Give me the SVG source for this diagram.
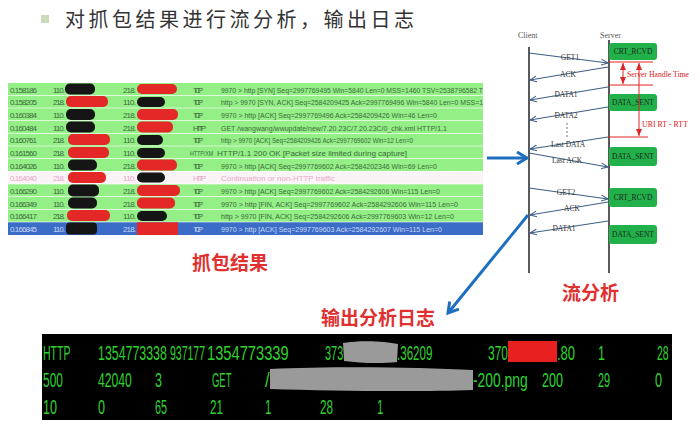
<svg xmlns="http://www.w3.org/2000/svg" width="700" height="433" viewBox="0 0 700 433">
<style>
.tt{font-family:"Liberation Sans",Arial,sans-serif;font-size:8px;fill:#3d6b3d}
.tp{font-family:"Liberation Sans",Arial,sans-serif;font-size:8px;fill:#e8a8c8}
.tb{font-family:"Liberation Sans",Arial,sans-serif;font-size:8px;fill:#c8d8f4}
.row{fill:#93ef86}
.blk{fill:#151515}
.red{fill:#e42828}
.fl{stroke:#3b5f86;stroke-width:1.1;fill:none}
.fll{font-family:"Liberation Serif",serif;font-size:7.5px;fill:#333;text-anchor:middle}
.box{fill:#22b04a}
.bt{font-family:"Liberation Serif",serif;font-size:7.5px;fill:#1c2a1c;text-anchor:middle}
.rl{stroke:#e02424;stroke-width:1;fill:none}
.rt{font-family:"Liberation Serif",serif;font-size:7.5px;fill:#d82020}
.cn{font-family:"Noto Sans CJK SC",sans-serif;font-weight:bold;font-size:19px;fill:#e03030}
.og{font-family:"Liberation Sans",Arial,sans-serif;font-size:21px;fill:#2fd12f}
.big{stroke:#1f6fbf;stroke-width:3;fill:none}
</style>
<defs>
<marker id="ah" markerUnits="userSpaceOnUse" markerWidth="8" markerHeight="8" refX="7" refY="4" orient="auto"><path d="M0,1 L7,4 L0,7" fill="none" stroke="#3b5f86" stroke-width="1"/></marker>
<marker id="ra" markerUnits="userSpaceOnUse" markerWidth="8" markerHeight="8" refX="7" refY="4" orient="auto-start-reverse"><path d="M0,1 L7,4 L0,7 z" fill="#e02424"/></marker>
<marker id="ba" markerUnits="userSpaceOnUse" markerWidth="14" markerHeight="14" refX="11" refY="7" orient="auto"><path d="M1,1 L11,7 L1,13" fill="none" stroke="#1f6fbf" stroke-width="3"/></marker>
</defs>
<rect width="700" height="433" fill="#ffffff"/>

<g id="title">
<rect x="41" y="15" width="8" height="8" fill="#cbd9bd"/>
<text x="65" y="27" font-family="Noto Sans CJK SC,sans-serif" font-size="20" letter-spacing="3.5" fill="#333">对抓包结果进行流分析，输出日志</text>
</g>

<g id="capture-table">
<rect class="row" x="8" y="83" width="475" height="12"/>
<rect class="row" x="8" y="95.7" width="475" height="12"/>
<rect class="row" x="8" y="108.3" width="475" height="12"/>
<rect class="row" x="8" y="121" width="475" height="12"/>
<rect class="row" x="8" y="133.7" width="475" height="12"/>
<rect class="row" x="8" y="146.3" width="475" height="12"/>
<rect class="row" x="8" y="159" width="475" height="12"/>
<rect x="8" y="171.7" width="475" height="12" fill="#fbf4f7"/>
<rect class="row" x="8" y="184.3" width="475" height="12"/>
<rect class="row" x="8" y="197" width="475" height="12"/>
<rect class="row" x="8" y="209.7" width="475" height="12"/>
<rect x="8" y="222.3" width="475" height="12.7" fill="#3a6cc8"/>

<g class="tt">
<text x="10" y="92.5" textLength="27">0.158186</text><text x="53" y="92.5" textLength="12">110.</text><text x="123" y="92.5" textLength="13">218.</text><text x="193" y="92.5" textLength="10">TCP</text><text x="221" y="92.5" textLength="262" lengthAdjust="spacingAndGlyphs">9970 &gt; http [SYN] Seq=2997769495 Win=5840 Len=0 MSS=1460 TSV=2538796582 T</text>
<text x="10" y="105.2" textLength="27">0.158205</text><text x="53" y="105.2" textLength="12">218.</text><text x="123" y="105.2" textLength="13">110.</text><text x="193" y="105.2" textLength="10">TCP</text><text x="221" y="105.2" textLength="262" lengthAdjust="spacingAndGlyphs">http &gt; 9970 [SYN, ACK] Seq=2584209425 Ack=2997769496 Win=5840 Len=0 MSS=1</text>
<text x="10" y="117.8" textLength="27">0.160384</text><text x="53" y="117.8" textLength="12">110.</text><text x="123" y="117.8" textLength="13">218.</text><text x="193" y="117.8" textLength="10">TCP</text><text x="221" y="117.8" textLength="216" lengthAdjust="spacingAndGlyphs">9970 &gt; http [ACK] Seq=2997769496 Ack=2584209426 Win=46 Len=0</text>
<text x="10" y="130.5" textLength="27">0.160484</text><text x="53" y="130.5" textLength="12">110.</text><text x="123" y="130.5" textLength="13">218.</text><text x="193" y="130.5" textLength="13">HTTP</text><text x="221" y="130.5" textLength="226" lengthAdjust="spacingAndGlyphs">GET /wangwang/wwupdate/new/7.20.23C/7.20.23C/0_chk.xml HTTP/1.1</text>
<text x="10" y="143.2" textLength="27">0.160761</text><text x="53" y="143.2" textLength="12">218.</text><text x="123" y="143.2" textLength="13">110.</text><text x="193" y="143.2" textLength="10">TCP</text><text x="221" y="143.2" textLength="192" lengthAdjust="spacingAndGlyphs">http &gt; 9970 [ACK] Seq=2584209426 Ack=2997769602 Win=12 Len=0</text>
<text x="10" y="155.8" textLength="27">0.161560</text><text x="53" y="155.8" textLength="12">218.</text><text x="123" y="155.8" textLength="13">110.</text><text transform="translate(190,155.8) scale(0.66,1)">HTTP/XM</text><text x="217" y="155.8" textLength="190" lengthAdjust="spacingAndGlyphs">HTTP/1.1 200 OK [Packet size limited during capture]</text>
<text x="10" y="168.5" textLength="27">0.164026</text><text x="53" y="168.5" textLength="12">110.</text><text x="123" y="168.5" textLength="13">218.</text><text x="193" y="168.5" textLength="10">TCP</text><text x="221" y="168.5" textLength="216" lengthAdjust="spacingAndGlyphs">9970 &gt; http [ACK] Seq=2997769602 Ack=2584202346 Win=69 Len=0</text>
<text x="10" y="193.8" textLength="27">0.166290</text><text x="53" y="193.8" textLength="12">110.</text><text x="123" y="193.8" textLength="13">218.</text><text x="193" y="193.8" textLength="10">TCP</text><text x="221" y="193.8" textLength="219" lengthAdjust="spacingAndGlyphs">9970 &gt; http [ACK] Seq=2997769602 Ack=2584292606 Win=115 Len=0</text>
<text x="10" y="206.5" textLength="27">0.166349</text><text x="53" y="206.5" textLength="12">110.</text><text x="123" y="206.5" textLength="13">218.</text><text x="193" y="206.5" textLength="10">TCP</text><text x="221" y="206.5" textLength="237" lengthAdjust="spacingAndGlyphs">9970 &gt; http [FIN, ACK] Seq=2997769602 Ack=2584292606 Win=115 Len=0</text>
<text x="10" y="219.2" textLength="27">0.166417</text><text x="53" y="219.2" textLength="12">218.</text><text x="123" y="219.2" textLength="13">110.</text><text x="193" y="219.2" textLength="10">TCP</text><text x="221" y="219.2" textLength="233" lengthAdjust="spacingAndGlyphs">http &gt; 9970 [FIN, ACK] Seq=2584292606 Ack=2997769603 Win=12 Len=0</text>
</g>
<g class="tp">
<text x="10" y="181.2" textLength="27">0.164040</text><text x="53" y="181.2" textLength="12">218.</text><text x="123" y="181.2" textLength="13">110.</text><text x="193" y="181.2" textLength="13">HTTP</text><text x="221" y="181.2" textLength="114" lengthAdjust="spacingAndGlyphs">Continuation or non-HTTP traffic</text>
</g>
<g class="tb">
<text x="10" y="232" textLength="27">0.166845</text><text x="53" y="232" textLength="12">110.</text><text x="123" y="232" textLength="13">218.</text><text x="193" y="232" textLength="10">TCP</text><text x="221" y="232" textLength="221" lengthAdjust="spacingAndGlyphs">9970 &gt; http [ACK] Seq=2997769603 Ack=2584292607 Win=115 Len=0</text>
</g>

<rect class="blk" x="65" y="83.5" width="30" height="11" rx="5"/><rect class="red" x="137" y="84" width="40" height="10" rx="5"/>
<rect class="red" x="66" y="96" width="42" height="11" rx="5"/><rect class="blk" x="137" y="97" width="28" height="10" rx="5"/>
<rect class="blk" x="66" y="109" width="29" height="11" rx="5"/><rect class="red" x="137" y="109" width="41" height="11" rx="5"/>
<rect class="blk" x="66" y="121.5" width="29" height="11" rx="5"/><rect class="red" x="137" y="121.5" width="36" height="11" rx="5"/>
<rect class="red" x="68" y="134" width="42" height="11" rx="5"/><rect class="blk" x="137" y="135" width="26" height="10" rx="5"/>
<rect class="red" x="68" y="147" width="41" height="11" rx="5"/><rect class="blk" x="137" y="148" width="28" height="10" rx="5"/>
<rect class="blk" x="68" y="159.5" width="29" height="11" rx="5"/><rect class="red" x="137" y="159.5" width="40" height="11" rx="5"/>
<rect class="red" x="68" y="172" width="38" height="11" rx="5"/><rect class="blk" x="137" y="172.5" width="28" height="10" rx="5"/>
<rect class="blk" x="68" y="184.5" width="31" height="12" rx="5"/><rect class="red" x="137" y="185" width="43" height="11" rx="5"/>
<rect class="blk" x="68" y="197.5" width="29" height="11" rx="5"/><rect class="red" x="137" y="197.5" width="38" height="11" rx="5"/>
<rect class="red" x="67" y="210" width="43" height="11" rx="5"/><rect class="blk" x="137" y="211" width="30" height="10" rx="5"/>
<rect class="blk" x="66" y="222.5" width="31" height="12" rx="4"/><rect class="red" x="137" y="222.3" width="41" height="12.7"/>
</g>

<g id="label-capture"><text class="cn" x="192" y="270">抓包结果</text></g>
<g id="label-output"><text class="cn" x="321" y="325">输出分析日志</text></g>
<g id="label-flow"><text class="cn" x="562" y="300">流分析</text></g>

<g id="flow-diagram">
<text x="518" y="38" font-family="Liberation Serif,serif" font-size="8" fill="#555">Client</text>
<text x="600" y="38" font-family="Liberation Serif,serif" font-size="8" fill="#555">Server</text>
<line x1="529" y1="47" x2="529" y2="273" stroke="#222" stroke-width="1.5"/>
<line x1="609" y1="40" x2="609" y2="273" stroke="#222" stroke-width="1.5"/>
<g id="box-crt1"><rect class="box" x="609" y="43" width="48" height="17" rx="3"/><text class="bt" x="633" y="54">CRT_RCVD</text></g>
<g id="box-data1"><rect class="box" x="609" y="94" width="48" height="17" rx="3"/><text class="bt" x="633" y="105">DATA_SENT</text></g>
<g id="box-data2"><rect class="box" x="609" y="147" width="48" height="19" rx="3"/><text class="bt" x="633" y="159">DATA_SENT</text></g>
<g id="box-crt2"><rect class="box" x="609" y="188" width="48" height="19" rx="3"/><text class="bt" x="633" y="200">CRT_RCVD</text></g>
<g id="box-data3"><rect class="box" x="609" y="225" width="48" height="19" rx="3"/><text class="bt" x="633" y="237">DATA_SENT</text></g>
</g>

<g id="connectors">
<line class="fl" x1="529" y1="53" x2="608" y2="63" marker-end="url(#ah)"/>
<line class="fl" x1="608" y1="67" x2="530" y2="80" marker-end="url(#ah)"/>
<line class="fl" x1="608" y1="87" x2="530" y2="100" marker-end="url(#ah)"/>
<line class="fl" x1="608" y1="107" x2="530" y2="120" marker-end="url(#ah)"/>
<line class="fl" x1="608" y1="137" x2="530" y2="149" marker-end="url(#ah)"/>
<line class="fl" x1="529" y1="153" x2="608" y2="167" marker-end="url(#ah)"/>
<line class="fl" x1="529" y1="188" x2="608" y2="199" marker-end="url(#ah)"/>
<line class="fl" x1="608" y1="202" x2="530" y2="215" marker-end="url(#ah)"/>
<line class="fl" x1="608" y1="221" x2="530" y2="233" marker-end="url(#ah)"/>
<text class="fll" x="570" y="60">GET1</text>
<text class="fll" x="568" y="77">ACK</text>
<text class="fll" x="566" y="97">DATA1</text>
<text class="fll" x="566" y="118">DATA2</text>
<g fill="#444"><circle cx="567" cy="124" r="0.7"/><circle cx="567" cy="128" r="0.7"/><circle cx="567" cy="132" r="0.7"/><circle cx="567" cy="136" r="0.7"/></g>
<text class="fll" x="568" y="147">Last DATA</text>
<text class="fll" x="567" y="163">Last ACK</text>
<text class="fll" x="566" y="195">GET2</text>
<text class="fll" x="572" y="211">ACK</text>
<text class="fll" x="564" y="231">DATA1</text>

<line class="rl" x1="609" y1="62" x2="653" y2="62"/>
<line class="rl" x1="609" y1="85" x2="653" y2="85"/>
<line class="rl" x1="623" y1="63" x2="623" y2="84" marker-start="url(#ra)" marker-end="url(#ra)"/>
<text class="rt" x="627" y="77" textLength="62" lengthAdjust="spacingAndGlyphs">Server Handle Time</text>
<line class="rl" x1="608" y1="137" x2="648" y2="137"/>
<line class="rl" x1="639" y1="63" x2="639" y2="136" marker-start="url(#ra)" marker-end="url(#ra)"/>
<text class="rt" x="642" y="127" textLength="46" lengthAdjust="spacingAndGlyphs">URI RT - RTT</text>

<line class="big" x1="487" y1="158" x2="527" y2="158" marker-end="url(#ba)"/>
<line class="big" x1="528" y1="215" x2="448" y2="313" marker-end="url(#ba)"/>
</g>

<g id="output-log">
<rect x="42" y="334" width="630" height="86" fill="#000"/>
<path d="M343,343 C360,340 385,341 398,344 L397,362 C380,364 360,363 344,361 Z" fill="#9a9a9a"/>
<path d="M508,341 L557,341 L557,362 L508,362 Z" fill="#e82020"/>
<path d="M270,369 C330,366 420,367 473,370 L473,390 C420,392 330,391 270,389 Z" fill="#9a9a9a"/>
<g class="og">
<text transform="translate(43,360) scale(0.5,1)">HTTP</text>
<text transform="translate(98,360) scale(0.59,1)">1354773338</text>
<text transform="translate(170,360) scale(0.5,1)">937177</text>
<text transform="translate(207,360) scale(0.7,1)">1354773339</text>
<text transform="translate(325,360) scale(0.52,1)">373</text>
<text transform="translate(397,360) scale(0.55,1)">.36209</text>
<text transform="translate(488,360) scale(0.57,1)">370</text>
<text transform="translate(557,360) scale(0.62,1)">.80</text>
<text transform="translate(598,360) scale(0.6,1)">1</text>
<text transform="translate(657,360) scale(0.5,1)">28</text>
<text transform="translate(43,387) scale(0.57,1)">500</text>
<text transform="translate(98,387) scale(0.58,1)">42040</text>
<text transform="translate(155,387) scale(0.6,1)">3</text>
<text transform="translate(212,387) scale(0.45,1)">GET</text>
<text transform="translate(265,387) scale(0.8,1)">/</text>
<text transform="translate(473,387) scale(0.66,1)">-200.png</text>
<text transform="translate(542,387) scale(0.6,1)">200</text>
<text transform="translate(598,387) scale(0.52,1)">29</text>
<text transform="translate(655,387) scale(0.6,1)">0</text>
<text transform="translate(43,414) scale(0.6,1)">10</text>
<text transform="translate(98,414) scale(0.6,1)">0</text>
<text transform="translate(155,414) scale(0.52,1)">65</text>
<text transform="translate(210,414) scale(0.56,1)">21</text>
<text transform="translate(265,414) scale(0.55,1)">1</text>
<text transform="translate(320,414) scale(0.56,1)">28</text>
<text transform="translate(377,414) scale(0.55,1)">1</text>
</g>
</g>
</svg>
